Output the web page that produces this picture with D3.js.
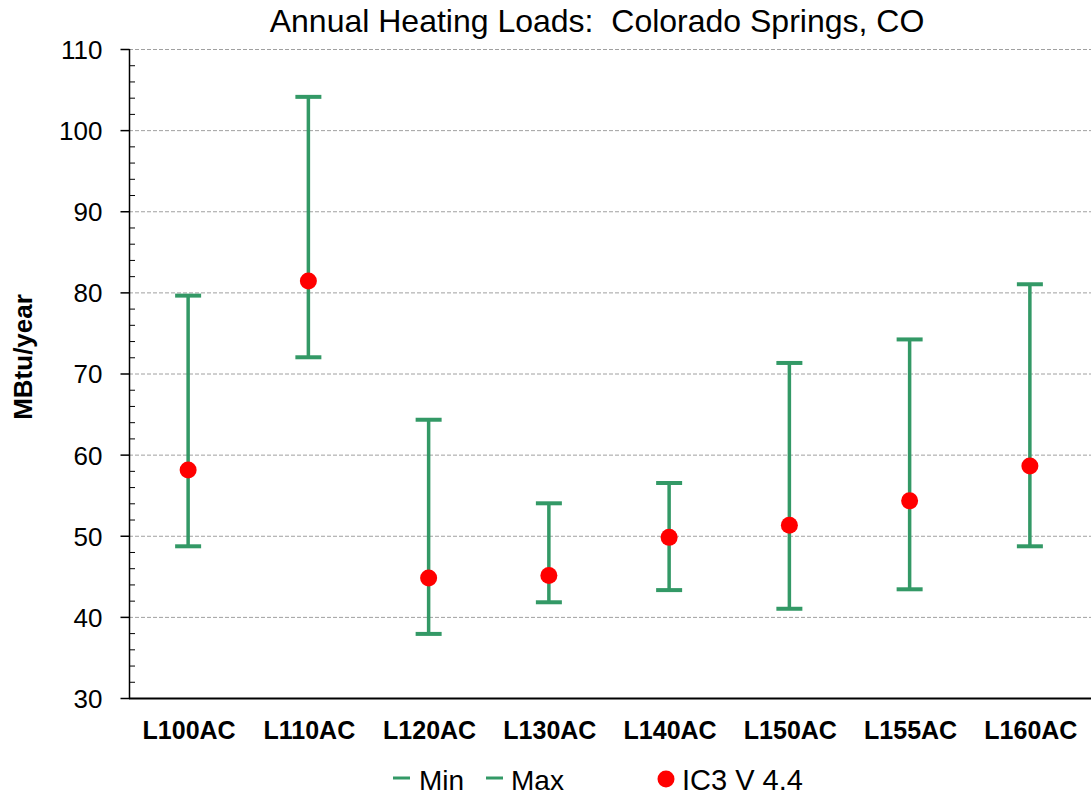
<!DOCTYPE html>
<html><head><meta charset="utf-8">
<script src="https://cdn.jsdelivr.net/npm/d3@7"></script>
<style>body{margin:0;background:#fff;}svg{display:block;font-family:"Liberation Sans",Arial,sans-serif;}</style>
</head><body>
<svg id="c" width="1091" height="798"></svg>
<script>
const categories = ["L100AC","L110AC","L120AC","L130AC","L140AC","L150AC","L155AC","L160AC"];
const minValues = [48.7, 72.0, 37.9, 41.8, 43.3, 41.0, 43.4, 48.7];
const maxValues = [79.6, 104.1, 64.3, 54.0, 56.5, 71.3, 74.2, 81.0];
const ic3Values = [58.1, 81.4, 44.8, 45.1, 49.8, 51.3, 54.3, 58.6];
const yTicks = [30,40,50,60,70,80,90,100,110];

(function(){
const svg = d3.select("#c");
const pL = 129, pR = 1091, pT = 49, pB = 698;
const green = "#339966";
const FF = '"Liberation Sans",Arial,sans-serif';
const x = d3.scaleBand().domain(categories).range([pL, pR]);
const y = d3.scaleLinear().domain([30,110]).range([pB, pT]);

// gridlines
svg.append("g").selectAll("line").data(yTicks.filter(t=>t>30)).join("line")
  .attr("x1", pL).attr("x2", pR)
  .attr("y1", d=>y(d)+0.5).attr("y2", d=>y(d)+0.5)
  .attr("stroke", "#a0a0a0").attr("stroke-width", 1).attr("stroke-dasharray", "4,2");

// minor ticks
const minor = d3.range(30, 110.01, 2).filter(v => v % 10 !== 0);
svg.append("g").selectAll("line").data(minor).join("line")
  .attr("x1", pL).attr("x2", pL+6)
  .attr("y1", d=>y(d)+0.5).attr("y2", d=>y(d)+0.5)
  .attr("stroke", "#000").attr("stroke-width", 1);

// y axis
const yAxis = svg.append("g").attr("transform", `translate(${pL+0.5},0)`)
  .call(d3.axisLeft(y).tickValues(yTicks).tickSize(9).tickPadding(18));
yAxis.attr("font-size", null).attr("font-family", null);
yAxis.select(".domain").attr("stroke", "#000").attr("stroke-width", 1.5).attr("d", `M0,${pT}V${pB}`);
yAxis.selectAll(".tick line").attr("x2", -9).attr("x1", 0).attr("stroke-width", 1.5);
yAxis.selectAll(".tick text").style("font-size", "26px").attr("fill", "#000")
  .style("font-family", FF).attr("text-anchor", "end").attr("dy", "0.36em").attr("x", -27);

// x axis
const xAxis = svg.append("g").attr("transform", `translate(0,${pB+0.5})`)
  .call(d3.axisBottom(x).tickSize(0).tickPadding(0));
xAxis.attr("font-size", null).attr("font-family", null);
xAxis.select(".domain").attr("stroke", "#000").attr("stroke-width", 2).attr("d", `M${pL},0H${pR}`);
xAxis.selectAll(".tick text").style("font-size", "25px").style("font-weight", "bold").attr("fill", "#000")
  .style("font-family", FF).attr("dy", null).attr("y", 40.5);

// error bars
const g = svg.append("g");
const cx = i => x(categories[i]) + x.bandwidth()/2 - 1;
categories.forEach((c,i) => {
  g.append("line").attr("x1", cx(i)).attr("x2", cx(i))
    .attr("y1", y(maxValues[i])).attr("y2", y(minValues[i]))
    .attr("stroke", green).attr("stroke-width", 3.5);
  [minValues[i], maxValues[i]].forEach(v => {
    g.append("line").attr("x1", cx(i)-13).attr("x2", cx(i)+13)
      .attr("y1", y(v)).attr("y2", y(v))
      .attr("stroke", green).attr("stroke-width", 4);
  });
});
g.selectAll("circle").data(ic3Values).join("circle")
  .attr("cx", (d,i)=>cx(i)).attr("cy", d=>y(d)).attr("r", 8.5).attr("fill", "#ff0000");

// title
svg.append("text").attr("x", 597).attr("y", 32).attr("text-anchor", "middle")
  .style("font-size", "32px").attr("fill", "#000").style("white-space","pre").text("Annual Heating Loads:  Colorado Springs, CO");

// y label
svg.append("text").attr("transform", "translate(32,357) rotate(-90)").attr("text-anchor", "middle")
  .style("font-size", "26px").style("font-weight", "bold").attr("fill", "#000").text("MBtu/year");

// legend
const ly = 778;
const leg = svg.append("g");
leg.append("line").attr("x1", 393).attr("x2", 410).attr("y1", ly).attr("y2", ly).attr("stroke", green).attr("stroke-width", 3);
leg.append("text").attr("x", 419).attr("y", 790).style("font-size", "28px").attr("fill","#000").text("Min");
leg.append("line").attr("x1", 486).attr("x2", 503).attr("y1", ly).attr("y2", ly).attr("stroke", green).attr("stroke-width", 3);
leg.append("text").attr("x", 511).attr("y", 790).style("font-size", "28px").attr("fill","#000").text("Max");
leg.append("circle").attr("cx", 666).attr("cy", 779).attr("r", 8.5).attr("fill", "#ff0000");
leg.append("text").attr("x", 682).attr("y", 790).style("font-size", "29px").attr("fill","#000").text("IC3 V 4.4");
})();
</script>
</body></html>
